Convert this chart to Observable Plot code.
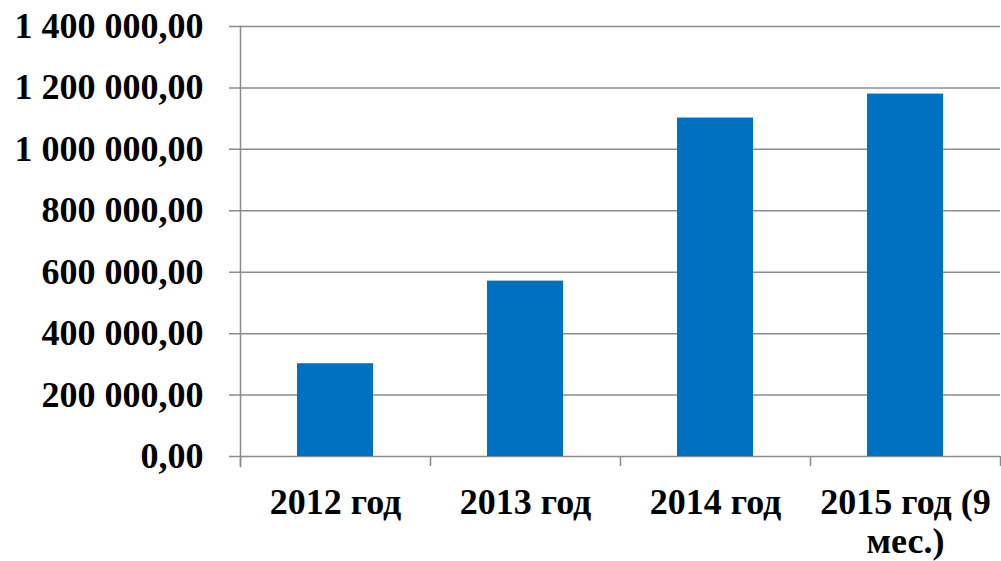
<!DOCTYPE html>
<html>
<head>
<meta charset="utf-8">
<script src="https://cdn.jsdelivr.net/npm/d3@7"></script>
<script src="https://cdn.jsdelivr.net/npm/@observablehq/plot@0.6"></script>
<style>
html,body{margin:0;padding:0;background:#fff;}
svg text{font-family:"Liberation Serif","Times New Roman",serif !important;font-weight:bold;}
</style>
</head>
<body>
<div id="chart"></div>
<script>
const categories = ["2012 год", "2013 год", "2014 год", "2015 год (9 мес.)"];
const values = [302000, 571000, 1102000, 1180000];
const yTicks = [0, 200000, 400000, 600000, 800000, 1000000, 1200000, 1400000];
const yTickLabels = ["0,00", "200 000,00", "400 000,00", "600 000,00", "800 000,00", "1 000 000,00", "1 200 000,00", "1 400 000,00"];
const xTickLabels = ["2012 год", "2013 год", "2014 год", "2015 год (9\nмес.)"];

const data = categories.map((c, i) => ({category: c, value: values[i]}));
const gridColor = "#8c8c8c";
const serif = "'Liberation Serif', 'Times New Roman', serif";

function build(step) {
  const marks = [
    Plot.ruleY(yTicks, {stroke: gridColor, strokeWidth: 1.5, insetLeft: -11}),
    Plot.barY(data, {x: "category", y: "value", fill: "#0070C0"}),
    Plot.frame({anchor: "left", stroke: gridColor, strokeWidth: 1.5, strokeOpacity: 1, insetBottom: -10}),
    Plot.axisY({ticks: yTicks, tickSize: 0, tickPadding: 37, fontSize: 36, fontWeight: "bold", fontFamily: serif,
      tickFormat: d => yTickLabels[yTicks.indexOf(d)], label: null}),
    Plot.axisX({tickSize: 0, tickPadding: 29, fontSize: 36, fontWeight: "bold", fontFamily: serif, lineHeight: 1.1,
      tickFormat: d => xTickLabels[categories.indexOf(d)], label: null})
  ];
  if (step) {
    // category boundary ticks below the baseline (left edge of each band, plus the right edge)
    marks.push(Plot.ruleX(categories, {x: d => d, y1: 0, y2: 0, insetBottom: -10, dx: -step / 2, stroke: gridColor, strokeWidth: 1.5}));
    marks.push(Plot.ruleX(categories.slice(-1), {x: d => d, y1: 0, y2: 0, insetBottom: -10, dx: step / 2, stroke: gridColor, strokeWidth: 1.5}));
  }
  return Plot.plot({
    width: 1001,
    height: 561,
    marginLeft: 240,
    marginRight: 1,
    marginTop: 26,
    marginBottom: 105,
    style: {fontFamily: serif, fontWeight: "bold", color: "#000", background: "#fff"},
    x: {domain: categories, paddingInner: 0.6, paddingOuter: 0.3, label: null},
    y: {domain: [0, 1400000], label: null},
    marks
  });
}

const first = build(0);
const step = first.scale("x").step;
const chart = build(step);
document.getElementById("chart").appendChild(chart);
</script>
</body>
</html>
